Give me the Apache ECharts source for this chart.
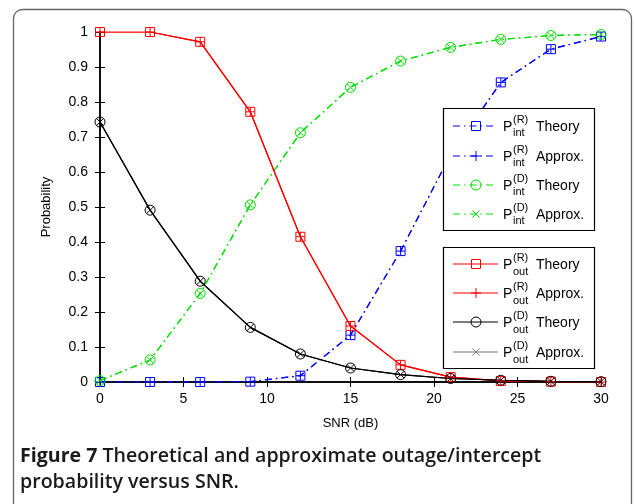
<!DOCTYPE html>
<html>
<head>
<meta charset="utf-8">
<script src="https://cdn.jsdelivr.net/npm/echarts@6/dist/echarts.min.js"></script>
<style>
html,body{margin:0;padding:0;background:#fff;}
#chart{width:635px;height:504px;}
</style>
</head>
<body>
<div id="chart"></div>
<script>
// ---- data ----
const snr = [0, 3, 6, 9, 12, 15, 18, 21, 24, 27, 30];
const pIntRTheory = [0, 0, 0, 0.001, 0.018, 0.134, 0.374, 0.65, 0.856, 0.951, 0.987];
const pIntRApprox = [0, 0, 0, 0.001, 0.018, 0.134, 0.374, 0.65, 0.856, 0.951, 0.987];
const pIntDTheory = [0.004, 0.063, 0.253, 0.506, 0.712, 0.842, 0.917, 0.956, 0.979, 0.990, 0.993];
const pIntDApprox = [0.004, 0.063, 0.253, 0.506, 0.712, 0.842, 0.917, 0.956, 0.979, 0.990, 0.993];
const pOutRTheory = [1.0, 1.0, 0.972, 0.772, 0.415, 0.160, 0.049, 0.014, 0.003, 0.001, 0.0];
const pOutRApprox = [1.0, 1.0, 0.972, 0.772, 0.415, 0.160, 0.049, 0.014, 0.003, 0.001, 0.0];
const pOutDTheory = [0.743, 0.491, 0.288, 0.156, 0.080, 0.040, 0.021, 0.010, 0.005, 0.002, 0.001];
const pOutDApprox = [0.743, 0.491, 0.288, 0.156, 0.080, 0.040, 0.021, 0.010, 0.005, 0.002, 0.001];
const xTicks = [0, 5, 10, 15, 20, 25, 30];
const yTicks = [0, 0.1, 0.2, 0.3, 0.4, 0.5, 0.6, 0.7, 0.8, 0.9, 1];

const BLUE = '#0000ff', GREEN = '#00e000', RED = '#ff0000', BLACK = '#000000';
const DASHDOT = [7, 4, 1.5, 4];
const PLUS = 'path://M0,5L10,5M5,0L5,10';
const CROSS = 'path://M0,0L10,10M10,0L0,10';

function pts(ys) { return snr.map((x, i) => [x, ys[i]]); }
function mkSeries(name, ys, color, dash, symbol, size) {
  return {
    name: name, type: 'line', data: pts(ys),
    symbol: symbol, symbolSize: size,
    lineStyle: { color: color, width: 1.2, type: dash },
    itemStyle: { color: 'none', borderColor: color, borderWidth: 1 },
    emphasis: { disabled: true }, animation: false
  };
}

const chart = echarts.init(document.getElementById('chart'), null, { renderer: 'canvas' });
const FONT = 'Liberation Sans, Arial, sans-serif';

// legend graphics
const g = [];
g.push({ type: 'rect', z: 100, shape: { x: 13.5, y: 9.5, width: 618, height: 540, r: 9 },
  style: { fill: 'none', stroke: '#666', lineWidth: 1.3 } });
function legendBox(x, y, w, h) {
  g.push({ type: 'rect', z: 100, shape: { x: x, y: y, width: w, height: h },
    style: { fill: '#fff', stroke: '#000', lineWidth: 1.2 } });
}
function marker(kind, cx, cy, color) {
  if (kind === 'rect') g.push({ type: 'rect', z: 101, shape: { x: cx - 4.5, y: cy - 4.5, width: 9, height: 9 }, style: { fill: 'none', stroke: color, lineWidth: 1 } });
  if (kind === 'circle') g.push({ type: 'circle', z: 101, shape: { cx: cx, cy: cy, r: 5 }, style: { fill: 'none', stroke: color, lineWidth: 1 } });
  if (kind === 'plus') {
    g.push({ type: 'line', z: 101, shape: { x1: cx - 5, y1: cy, x2: cx + 5, y2: cy }, style: { stroke: color, lineWidth: 1 } });
    g.push({ type: 'line', z: 101, shape: { x1: cx, y1: cy - 5, x2: cx, y2: cy + 5 }, style: { stroke: color, lineWidth: 1 } });
  }
  if (kind === 'cross') {
    g.push({ type: 'line', z: 101, shape: { x1: cx - 3.5, y1: cy - 3.5, x2: cx + 3.5, y2: cy + 3.5 }, style: { stroke: color, lineWidth: 1 } });
    g.push({ type: 'line', z: 101, shape: { x1: cx + 3.5, y1: cy - 3.5, x2: cx - 3.5, y2: cy + 3.5 }, style: { stroke: color, lineWidth: 1 } });
  }
}
function entry(y, x1, x2, color, dash, mk, sup, sub, word, subUp) {
  g.push({ type: 'line', z: 101, shape: { x1: x1, y1: y, x2: x2, y2: y },
    style: { stroke: color, lineWidth: 1.2, lineDash: dash } });
  marker(mk, 476, y, color);
  g.push({ type: 'text', z: 101, x: 503, y: y + 1, style: { text: 'P', font: '14px ' + FONT, fill: '#000', align: 'left', verticalAlign: 'middle' } });
  g.push({ type: 'text', z: 101, x: 513, y: y - 6, style: { text: sup, font: '11px ' + FONT, fill: '#000', align: 'left', verticalAlign: 'middle' } });
  g.push({ type: 'text', z: 101, x: 513, y: y + subUp, style: { text: sub, font: '11px ' + FONT, fill: '#000', align: 'left', verticalAlign: 'middle' } });
  g.push({ type: 'text', z: 101, x: 536, y: y + 1, style: { text: word, font: '14px ' + FONT, fill: '#000', align: 'left', verticalAlign: 'middle' } });
}
legendBox(443.5, 108.5, 151, 122);
entry(126, 453, 493, BLUE, DASHDOT, 'rect', '(R)', 'int', 'Theory', 7);
entry(156, 453, 493, BLUE, DASHDOT, 'plus', '(R)', 'int', 'Approx.', 7);
entry(185, 453, 493, GREEN, DASHDOT, 'circle', '(D)', 'int', 'Theory', 7);
entry(214, 453, 493, GREEN, DASHDOT, 'cross', '(D)', 'int', 'Approx.', 7);
legendBox(443.5, 247.5, 151, 121);
entry(264, 453, 498, RED, null, 'rect', '(R)', 'out', 'Theory', 8);
entry(293, 453, 498, RED, null, 'plus', '(R)', 'out', 'Approx.', 8);
entry(322, 453, 498, BLACK, null, 'circle', '(D)', 'out', 'Theory', 8);
entry(352, 453, 498, '#777', null, 'cross', '(D)', 'out', 'Approx.', 8);

// caption
g.push({ type: 'text', z: 100, x: 20, y: 456, style: {
  text: '{b|Figure 7} Theoretical and approximate outage/intercept', verticalAlign: 'middle', align: 'left',
  font: '600 19.6px Open Sans, sans-serif', fill: '#1a1a1a',
  rich: { b: { font: 'bold 19.6px Open Sans, sans-serif', fill: '#1a1a1a' } } } });
g.push({ type: 'text', z: 100, x: 20, y: 482, style: {
  text: 'probability versus SNR.', verticalAlign: 'middle', align: 'left',
  font: '600 19.6px Open Sans, sans-serif', fill: '#1a1a1a' } });

const axisCommon = {
  axisLine: { show: true, lineStyle: { color: '#000', width: 1.5 } },
  axisTick: { show: true, inside: true, length: 5, lineStyle: { color: '#000', width: 1 } },
  splitLine: { show: false }
};

chart.setOption({
  animation: false,
  backgroundColor: '#fff',
  grid: { left: 100, right: 34, top: 32, bottom: 122 },
  xAxis: [
    Object.assign({ type: 'value', min: 0, max: 30, interval: 5, position: 'bottom',
      name: 'SNR (dB)', nameLocation: 'middle', nameGap: 35,
      nameTextStyle: { fontFamily: FONT, fontSize: 13, color: '#000' },
      axisLabel: { fontFamily: FONT, fontSize: 14, color: '#000', margin: 10,
        formatter: v => xTicks.includes(v) ? String(v) : '' } }, axisCommon),
    Object.assign({ type: 'value', min: 0, max: 30, interval: 5, position: 'top',
      axisLabel: { show: false } }, axisCommon)
  ],
  yAxis: [
    Object.assign({ type: 'value', min: 0, max: 1, interval: 0.1, position: 'left',
      name: 'Probability', nameLocation: 'middle', nameGap: 47, nameRotate: 90,
      nameTextStyle: { fontFamily: FONT, fontSize: 13, color: '#000' },
      axisLabel: { fontFamily: FONT, fontSize: 14, color: '#000', margin: 12,
        formatter: v => { const t = yTicks.find(k => Math.abs(k - v) < 1e-6); return t === undefined ? '' : (t === 0 ? '0' : t === 1 ? '1' : t.toFixed(1)); } } }, axisCommon),
    Object.assign({ type: 'value', min: 0, max: 1, interval: 0.1, position: 'right',
      axisLabel: { show: false } }, axisCommon)
  ],
  series: [
    mkSeries('PintR Theory', pIntRTheory, BLUE, DASHDOT, 'rect', 9),
    mkSeries('PintR Approx', pIntRApprox, BLUE, DASHDOT, PLUS, 9),
    mkSeries('PintD Theory', pIntDTheory, GREEN, DASHDOT, 'circle', 10),
    mkSeries('PintD Approx', pIntDApprox, GREEN, DASHDOT, CROSS, 7),
    mkSeries('PoutR Theory', pOutRTheory, RED, 'solid', 'rect', 9),
    mkSeries('PoutR Approx', pOutRApprox, RED, 'solid', PLUS, 9),
    mkSeries('PoutD Theory', pOutDTheory, BLACK, 'solid', 'circle', 10),
    mkSeries('PoutD Approx', pOutDApprox, BLACK, 'solid', CROSS, 7)
  ],
  graphic: g
});
</script>
</body>
</html>
